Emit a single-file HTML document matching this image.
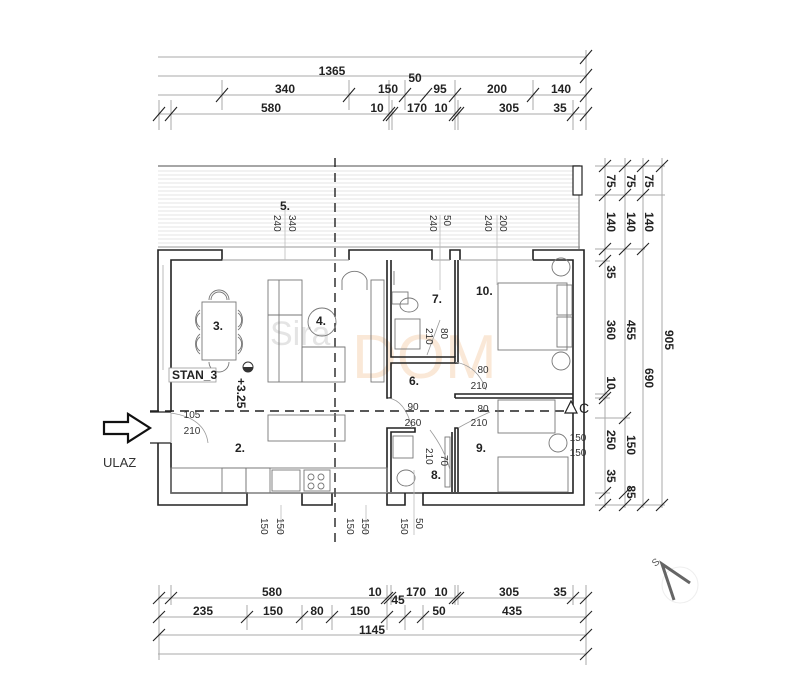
<!DOCTYPE html>
<html><head><meta charset="utf-8"><style>
html,body{margin:0;padding:0;background:#fff;}
svg{display:block;font-family:"Liberation Sans",sans-serif;}
.d{font-size:12px;font-weight:bold;fill:#222;}
.s{font-size:10px;fill:#333;}
.w{fill:none;stroke:#222;stroke-width:1.6;}
.t{stroke:#222;stroke-width:1.1;}
.g{stroke:#999;stroke-width:0.8;fill:none;}
.f{fill:none;stroke:#777;stroke-width:0.9;}
</style></head><body>
<svg width="805" height="690" viewBox="0 0 805 690" xmlns="http://www.w3.org/2000/svg">
<!-- TOP DIMENSIONS -->
<g stroke="#aaa" stroke-width="1">
<line x1="158" y1="57" x2="587" y2="57"/>
<line x1="158" y1="76" x2="587" y2="76"/>
<line x1="158" y1="95" x2="587" y2="95"/>
<line x1="158" y1="114" x2="587" y2="114"/>
<line x1="159" y1="100" x2="159" y2="130"/><line x1="171" y1="100" x2="171" y2="130"/>
<line x1="222" y1="80" x2="222" y2="110"/><line x1="349" y1="80" x2="349" y2="110"/>
<line x1="389" y1="80" x2="389" y2="130"/><line x1="392" y1="100" x2="392" y2="130"/>
<line x1="405" y1="80" x2="405" y2="110"/><line x1="455" y1="80" x2="455" y2="130"/><line x1="458" y1="100" x2="458" y2="130"/>
<line x1="533" y1="80" x2="533" y2="110"/>
<line x1="573" y1="100" x2="573" y2="130"/><line x1="586" y1="50" x2="586" y2="130"/>
</g>
<g class="t">
<line x1="580" y1="64" x2="592" y2="50"/><line x1="580" y1="83" x2="592" y2="69"/><line x1="580" y1="102" x2="592" y2="88"/><line x1="580" y1="121" x2="592" y2="107"/>
<line x1="216" y1="102" x2="228" y2="88"/><line x1="343" y1="102" x2="355" y2="88"/><line x1="399" y1="102" x2="411" y2="88"/><line x1="420" y1="102" x2="432" y2="88"/><line x1="449" y1="102" x2="461" y2="88"/><line x1="527" y1="102" x2="539" y2="88"/>
<line x1="153" y1="121" x2="165" y2="107"/><line x1="165" y1="121" x2="177" y2="107"/>
<line x1="383" y1="121" x2="395" y2="107"/><line x1="386" y1="121" x2="398" y2="107"/>
<line x1="449" y1="121" x2="461" y2="107"/><line x1="452" y1="121" x2="464" y2="107"/>
<line x1="567" y1="121" x2="579" y2="107"/>
</g>
<g class="d" text-anchor="middle">
<text x="332" y="75">1365</text>
<text x="285" y="93">340</text><text x="388" y="93">150</text><text x="415" y="82">50</text><text x="440" y="93">95</text><text x="497" y="93">200</text><text x="561" y="93">140</text>
<text x="271" y="112">580</text><text x="377" y="112">10</text><text x="417" y="112">170</text><text x="441" y="112">10</text><text x="509" y="112">305</text><text x="560" y="112">35</text>
</g>

<!-- TERRACE -->
<g stroke="#ddd" stroke-width="0.8">
<line x1="158" y1="171" x2="579" y2="171"/><line x1="158" y1="175" x2="579" y2="175"/><line x1="158" y1="179" x2="579" y2="179"/><line x1="158" y1="183" x2="579" y2="183"/><line x1="158" y1="187" x2="579" y2="187"/><line x1="158" y1="191" x2="579" y2="191"/><line x1="158" y1="195" x2="579" y2="195"/><line x1="158" y1="199" x2="579" y2="199"/><line x1="158" y1="203" x2="579" y2="203"/><line x1="158" y1="207" x2="579" y2="207"/><line x1="158" y1="211" x2="579" y2="211"/><line x1="158" y1="215" x2="579" y2="215"/><line x1="158" y1="219" x2="579" y2="219"/><line x1="158" y1="223" x2="579" y2="223"/><line x1="158" y1="227" x2="579" y2="227"/><line x1="158" y1="231" x2="579" y2="231"/><line x1="158" y1="235" x2="579" y2="235"/><line x1="158" y1="239" x2="579" y2="239"/><line x1="158" y1="243" x2="579" y2="243"/>
</g>
<line x1="158" y1="166" x2="580" y2="166" stroke="#888" stroke-width="1.5"/>
<line x1="158" y1="247" x2="580" y2="247" stroke="#999" stroke-width="1"/>
<line x1="579" y1="195" x2="579" y2="249" stroke="#888" stroke-width="1.2"/>
<rect x="573" y="166" width="9" height="29" fill="#fff" stroke="#222" stroke-width="1.2"/>

<!-- watermark -->
<text x="352" y="378" font-size="62" fill="#f6d6b8" opacity="0.55">DOM</text>
<text x="270" y="345" font-size="34" fill="#e4e4e4">Sira</text>

<!-- OUTER WALLS -->
<g class="w">
<polyline points="158,412 158,250 222,250 222,260 171,260 171,412"/>
<polyline points="349,260 349,250 432,250 432,260"/>
<polyline points="450,260 450,250 460,250 460,260"/>
<polyline points="533,260 533,250 584,250 584,505 423,505 423,493 573,493 573,260 533,260"/>
<polyline points="158,443 158,505 247,505 247,493 171,493 171,443"/>
<polyline points="302,493 302,505 332,505 332,493"/>
<polyline points="387,493 387,505 405,505 405,493"/>
<line x1="222" y1="260" x2="349" y2="260" stroke="#999" stroke-width="1"/>
<line x1="432" y1="260" x2="450" y2="260" stroke="#999" stroke-width="1"/>
<line x1="460" y1="260" x2="533" y2="260" stroke="#999" stroke-width="1"/>
<line x1="171" y1="493" x2="573" y2="493" stroke="#222" stroke-width="1.2"/>
<polyline points="387,260 387,398 391,398 391,363 455,363 455,357 391,357 391,260"/>
<polyline points="455,260 455,357"/>
<polyline points="458,260 458,363 455,363"/>
<polyline points="455,398 455,394 573,394"/>
<polyline points="455,398 573,398"/>
<polyline points="387,492 387,428 415,428 415,432 391,432 391,492"/>
<polyline points="455,492 455,428 458,428 458,492"/>
<polyline points="452,432 452,492"/>
</g>
<line x1="163" y1="265" x2="163" y2="370" stroke="#bbb"/>
<line x1="150" y1="412" x2="171" y2="412" stroke="#222" stroke-width="1.2"/>
<line x1="150" y1="443" x2="171" y2="443" stroke="#222" stroke-width="1.2"/>
<path d="M171,413 Q205,418 208,443" class="g"/>
<line x1="171" y1="413" x2="171" y2="443" class="g"/>

<!-- dashed section lines -->
<line x1="335" y1="158" x2="335" y2="543" stroke="#222" stroke-width="1.4" stroke-dasharray="9,6"/>
<line x1="150" y1="411" x2="570" y2="411" stroke="#222" stroke-width="1.4" stroke-dasharray="9,6"/>
<path d="M565,413 L571,401 L577,413 Z" fill="#fff" stroke="#222" stroke-width="1.2"/>
<text x="579" y="413" font-size="14" fill="#222">C</text>

<!-- FURNITURE -->
<g class="f">
<rect x="202" y="302" width="34" height="58"/>
<path d="M209,300 A10,10 0 0 1 229,300"/><path d="M211,300 A8,8 0 0 1 227,300"/>
<path d="M200,310 A10,12 0 0 0 200,330 M200,313 A7,8 0 0 0 200,327"/>
<path d="M200,334 A10,12 0 0 0 200,354 M200,337 A7,8 0 0 0 200,351"/>
<path d="M238,310 A10,12 0 0 1 238,330 M238,313 A7,8 0 0 1 238,327"/>
<path d="M238,334 A10,12 0 0 1 238,354 M238,337 A7,8 0 0 1 238,351"/>
<path d="M209,362 A10,10 0 0 0 229,362"/>
<rect x="268" y="280" width="34" height="102"/><line x1="279" y1="280" x2="279" y2="382"/>
<line x1="268" y1="315" x2="302" y2="315"/><line x1="302" y1="347" x2="345" y2="347"/>
<rect x="302" y="347" width="43" height="35"/>
<circle cx="322" cy="322" r="14"/>
<path d="M342,290 L342,280 A13,12 0 0 1 367,280 L367,290"/>
<rect x="371" y="280" width="13" height="102"/>
<rect x="268" y="415" width="77" height="26"/>
<rect x="171" y="468" width="216" height="25"/>
<rect x="222" y="468" width="24" height="25"/><rect x="246" y="468" width="24" height="25"/>
<rect x="272" y="470" width="28" height="21"/><rect x="304" y="470" width="26" height="21"/>
<circle cx="311" cy="477" r="3"/><circle cx="321" cy="477" r="3"/><circle cx="311" cy="486" r="3"/><circle cx="321" cy="486" r="3"/>
<rect x="392" y="292" width="16" height="12"/>
<ellipse cx="409" cy="305" rx="9" ry="7"/>
<rect x="395" y="319" width="25" height="30"/>
<line x1="394" y1="271" x2="394" y2="285"/>
<rect x="393" y="436" width="20" height="22"/>
<ellipse cx="406" cy="478" rx="9" ry="8"/>
<rect x="445" y="437" width="5" height="50"/>
<rect x="498" y="283" width="69" height="67"/>
<rect x="557" y="285" width="15" height="30"/><rect x="557" y="317" width="15" height="30"/>
<circle cx="561" cy="267" r="9"/><circle cx="561" cy="361" r="9"/>
<rect x="498" y="400" width="57" height="33"/>
<rect x="498" y="457" width="70" height="35"/>
<circle cx="558" cy="443" r="9"/>
</g>
<g class="g">
<path d="M388,398 Q405,400 412,428"/><path d="M455,362 Q478,366 486,390"/><path d="M458,428 Q472,420 490,412"/>
<path d="M427,355 L440,320"/><path d="M430,430 Q445,450 450,470"/>
</g>
<g stroke="#bbb" stroke-width="0.8">
<line x1="285" y1="210" x2="285" y2="260"/><line x1="440" y1="215" x2="440" y2="290"/><line x1="497" y1="215" x2="497" y2="285"/>
<line x1="281" y1="505" x2="281" y2="535"/><line x1="366" y1="505" x2="366" y2="535"/><line x1="414" y1="470" x2="414" y2="535"/>
</g>

<g class="d">
<text x="280" y="210">5.</text><text x="213" y="330">3.</text><text x="316" y="325">4.</text>
<text x="432" y="303">7.</text><text x="476" y="295">10.</text><text x="409" y="385">6.</text>
<text x="235" y="452">2.</text><text x="476" y="452">9.</text><text x="431" y="479">8.</text>
</g>
<rect x="169" y="368" width="47" height="14" fill="#fff" stroke="#999" stroke-width="0.8"/>
<text x="172" y="379" class="d" font-size="11">STAN_3</text>
<circle cx="248" cy="367" r="5" fill="none" stroke="#333"/><path d="M243,367 A5,5 0 0 0 253,367 Z" fill="#333"/>
<text transform="translate(237,378) rotate(90)" class="d">+3.25</text>

<g class="s" text-anchor="middle">
<text x="192" y="418">105</text><text x="192" y="434">210</text>
<text x="413" y="410">90</text><text x="413" y="426">260</text>
<text x="483" y="373">80</text><text x="479" y="389">210</text>
<text x="483" y="412">80</text><text x="479" y="426">210</text>
<text x="578" y="441">150</text><text x="578" y="456">150</text>
</g>
<g class="s">
<text transform="translate(274,215) rotate(90)">240</text><text transform="translate(289,215) rotate(90)">340</text>
<text transform="translate(430,215) rotate(90)">240</text><text transform="translate(444,215) rotate(90)">50</text>
<text transform="translate(485,215) rotate(90)">240</text><text transform="translate(500,215) rotate(90)">200</text>
<text transform="translate(426,328) rotate(90)">210</text><text transform="translate(441,328) rotate(90)">80</text>
<text transform="translate(426,448) rotate(90)">210</text><text transform="translate(441,455) rotate(90)">70</text>
<text transform="translate(261,518) rotate(90)">150</text><text transform="translate(277,518) rotate(90)">150</text>
<text transform="translate(347,518) rotate(90)">150</text><text transform="translate(362,518) rotate(90)">150</text>
<text transform="translate(401,518) rotate(90)">150</text><text transform="translate(416,518) rotate(90)">50</text>
</g>

<path d="M104,422 L128,422 L128,414 L150,428 L128,442 L128,434 L104,434 Z" fill="#fff" stroke="#111" stroke-width="2.2"/>
<text x="103" y="467" font-size="13" fill="#333">ULAZ</text>

<!-- RIGHT DIMENSIONS -->
<g stroke="#aaa" stroke-width="1">
<line x1="605" y1="158" x2="605" y2="508"/><line x1="625" y1="158" x2="625" y2="508"/>
<line x1="643" y1="158" x2="643" y2="508"/><line x1="662" y1="158" x2="662" y2="508"/>
<line x1="595" y1="166" x2="665" y2="166"/><line x1="595" y1="195" x2="665" y2="195"/>
<line x1="595" y1="249" x2="645" y2="249"/><line x1="595" y1="261" x2="610" y2="261"/>
<line x1="595" y1="394" x2="610" y2="394"/><line x1="595" y1="398" x2="610" y2="398"/>
<line x1="595" y1="418" x2="630" y2="418"/><line x1="595" y1="493" x2="610" y2="493"/>
<line x1="595" y1="505" x2="665" y2="505"/>
</g>
<g class="t">
<line x1="599" y1="172" x2="611" y2="160"/><line x1="619" y1="172" x2="631" y2="160"/><line x1="637" y1="172" x2="649" y2="160"/><line x1="656" y1="172" x2="668" y2="160"/>
<line x1="599" y1="201" x2="611" y2="189"/><line x1="619" y1="201" x2="631" y2="189"/><line x1="637" y1="201" x2="649" y2="189"/>
<line x1="599" y1="255" x2="611" y2="243"/><line x1="619" y1="255" x2="631" y2="243"/><line x1="637" y1="255" x2="649" y2="243"/>
<line x1="599" y1="267" x2="611" y2="255"/>
<line x1="599" y1="400" x2="611" y2="388"/><line x1="599" y1="404" x2="611" y2="392"/>
<line x1="619" y1="424" x2="631" y2="412"/>
<line x1="599" y1="499" x2="611" y2="487"/><line x1="619" y1="499" x2="631" y2="487"/>
<line x1="599" y1="511" x2="611" y2="499"/><line x1="619" y1="511" x2="631" y2="499"/><line x1="637" y1="511" x2="649" y2="499"/><line x1="656" y1="511" x2="668" y2="499"/>
</g>
<g class="d" text-anchor="middle">
<text transform="translate(607,181) rotate(90)">75</text><text transform="translate(627,181) rotate(90)">75</text><text transform="translate(645,181) rotate(90)">75</text>
<text transform="translate(607,222) rotate(90)">140</text><text transform="translate(627,222) rotate(90)">140</text><text transform="translate(645,222) rotate(90)">140</text>
<text transform="translate(607,272) rotate(90)">35</text>
<text transform="translate(607,330) rotate(90)">360</text><text transform="translate(627,330) rotate(90)">455</text>
<text transform="translate(645,378) rotate(90)">690</text><text transform="translate(665,340) rotate(90)">905</text>
<text transform="translate(607,383) rotate(90)">10</text>
<text transform="translate(607,440) rotate(90)">250</text><text transform="translate(627,445) rotate(90)">150</text>
<text transform="translate(607,476) rotate(90)">35</text><text transform="translate(627,492) rotate(90)">85</text>
</g>

<!-- BOTTOM DIMENSIONS -->
<g stroke="#aaa" stroke-width="1">
<line x1="158" y1="598" x2="587" y2="598"/><line x1="158" y1="617" x2="587" y2="617"/>
<line x1="158" y1="635" x2="587" y2="635"/><line x1="158" y1="654" x2="587" y2="654"/>
<line x1="159" y1="585" x2="159" y2="660"/><line x1="171" y1="585" x2="171" y2="605"/>
<line x1="247" y1="605" x2="247" y2="630"/><line x1="302" y1="605" x2="302" y2="630"/><line x1="332" y1="605" x2="332" y2="630"/>
<line x1="387" y1="585" x2="387" y2="630"/><line x1="391" y1="585" x2="391" y2="605"/><line x1="405" y1="605" x2="405" y2="630"/><line x1="423" y1="605" x2="423" y2="630"/>
<line x1="455" y1="585" x2="455" y2="605"/><line x1="458" y1="585" x2="458" y2="605"/>
<line x1="573" y1="585" x2="573" y2="605"/><line x1="586" y1="585" x2="586" y2="665"/>
</g>
<g class="t">
<line x1="153" y1="604" x2="165" y2="592"/><line x1="165" y1="604" x2="177" y2="592"/>
<line x1="381" y1="604" x2="393" y2="592"/><line x1="384" y1="604" x2="396" y2="592"/>
<line x1="449" y1="604" x2="461" y2="592"/><line x1="452" y1="604" x2="464" y2="592"/>
<line x1="567" y1="604" x2="579" y2="592"/><line x1="580" y1="604" x2="592" y2="592"/>
<line x1="153" y1="623" x2="165" y2="611"/><line x1="241" y1="623" x2="253" y2="611"/><line x1="296" y1="623" x2="308" y2="611"/><line x1="326" y1="623" x2="338" y2="611"/>
<line x1="381" y1="623" x2="393" y2="611"/><line x1="399" y1="623" x2="411" y2="611"/><line x1="417" y1="623" x2="429" y2="611"/><line x1="580" y1="623" x2="592" y2="611"/>
<line x1="153" y1="641" x2="165" y2="629"/><line x1="580" y1="641" x2="592" y2="629"/><line x1="580" y1="660" x2="592" y2="648"/>
</g>
<g class="d" text-anchor="middle">
<text x="272" y="596">580</text><text x="375" y="596">10</text><text x="416" y="596">170</text><text x="441" y="596">10</text><text x="509" y="596">305</text><text x="560" y="596">35</text>
<text x="203" y="615">235</text><text x="273" y="615">150</text><text x="317" y="615">80</text><text x="360" y="615">150</text><text x="398" y="604">45</text><text x="439" y="615">50</text><text x="512" y="615">435</text>
<text x="372" y="634">1145</text>
</g>

<!-- north sign -->
<circle cx="680" cy="585" r="18" fill="none" stroke="#eee" stroke-width="1"/>
<path d="M690,583 L662,564 L674,600" stroke="#666" stroke-width="3" fill="none" stroke-linejoin="miter"/>
<text x="652" y="566" font-size="10" fill="#555" transform="rotate(-40 655 562)">S</text>
</svg>
</body></html>
